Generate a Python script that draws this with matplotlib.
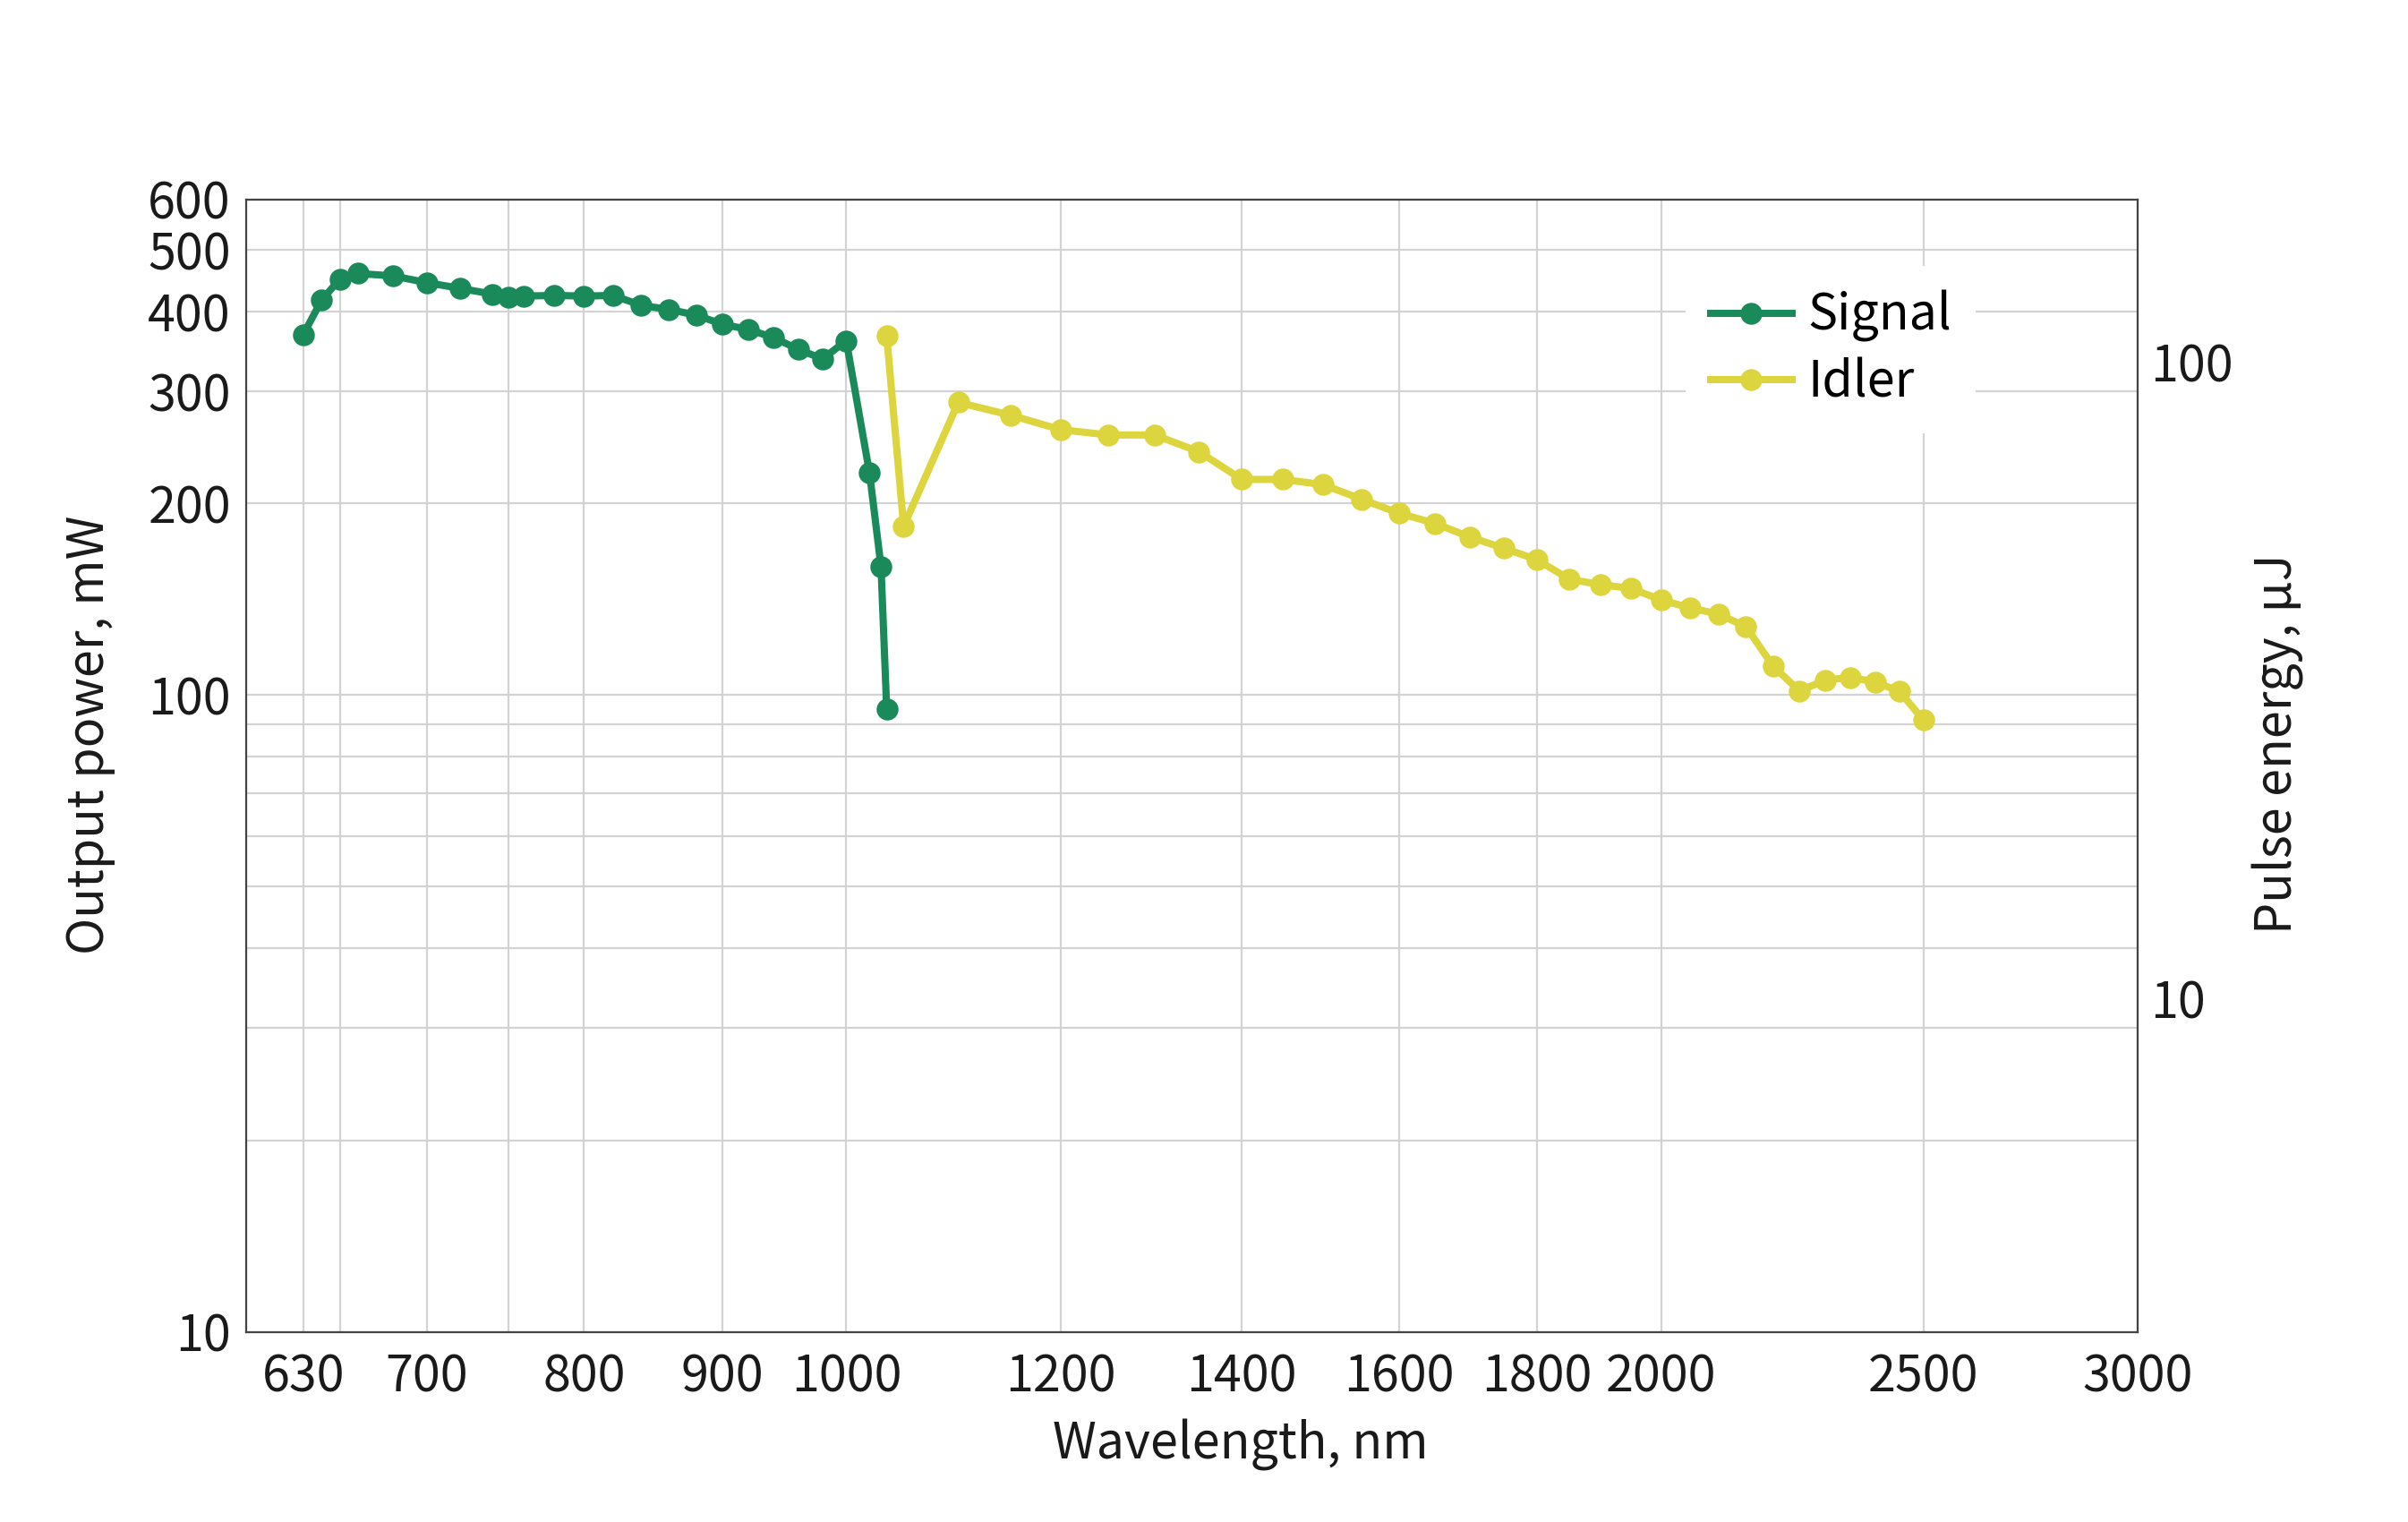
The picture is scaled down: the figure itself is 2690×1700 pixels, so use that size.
import matplotlib
matplotlib.use("Agg")
import matplotlib.pyplot as plt
from matplotlib.ticker import FixedLocator, FixedFormatter, NullFormatter, NullLocator

plt.rcParams['font.family'] = ['Noto Sans CJK SC', 'DejaVu Sans']

# ---- data ----
signal_wl = [630, 640, 650, 660, 680, 700, 720, 740, 750, 760, 780, 800, 820,
             840, 860, 880, 900, 920, 940, 960, 980, 1000, 1020, 1030, 1035]
signal_mw = [368, 417, 450, 459, 455, 444, 435, 426, 421, 423, 424, 423, 424,
             409, 403, 395, 382, 375, 364, 349, 337, 360, 223, 159, 95]

idler_wl = [1035, 1050, 1100, 1150, 1200, 1250, 1300, 1350, 1400, 1450, 1500,
            1550, 1600, 1650, 1700, 1750, 1800, 1850, 1900, 1950, 2000, 2050,
            2100, 2150, 2200, 2250, 2300, 2350, 2400, 2450, 2500]
idler_mw = [366, 184, 288, 275, 261, 256, 256, 241, 218, 218, 214,
            203, 193, 186, 177, 170, 163, 152, 149, 147, 141, 137,
            134, 128, 111, 101.5, 105.5, 106.6, 104.8, 101.3, 91.4]

rep_rate_khz = 10 / 3  # power (mW) / rep rate (kHz) = pulse energy (uJ)

x_ticks = [630, 700, 800, 900, 1000, 1200, 1400, 1600, 1800, 2000, 2500, 3000]
x_minor_grid = [650, 750]
y_ticks = [10, 100, 200, 300, 400, 500, 600]
y_minor_grid = [20, 30, 40, 50, 60, 70, 80, 90]
y2_ticks = [10, 100]

green = '#1b8a5a'
yellow = '#ddd53e'
grid_c = '#d3d3d3'
text_c = '#1a1a1a'

fig = plt.figure(figsize=(13.45, 8.5), dpi=200)
ax = fig.add_axes([0.1021, 0.1249, 0.7856, 0.7441])

ax.set_xscale('log')
ax.set_yscale('log')
xlim = (600, 3000)
ylim = (10, 600)
ax.set_xlim(*xlim)
ax.set_ylim(*ylim)

ax.xaxis.set_major_locator(FixedLocator(x_ticks))
ax.xaxis.set_major_formatter(FixedFormatter([str(t) for t in x_ticks]))
ax.xaxis.set_minor_locator(FixedLocator(x_minor_grid))
ax.xaxis.set_minor_formatter(NullFormatter())
ax.yaxis.set_major_locator(FixedLocator(y_ticks))
ax.yaxis.set_major_formatter(FixedFormatter([str(t) for t in y_ticks]))
ax.yaxis.set_minor_locator(FixedLocator(y_minor_grid))
ax.yaxis.set_minor_formatter(NullFormatter())

ax.grid(True, which='both', color=grid_c, linewidth=0.8)
ax.set_axisbelow(True)
ax.tick_params(which='both', length=0, labelsize=20, colors=text_c)
ax.tick_params(axis='x', pad=8)
ax.tick_params(axis='y', pad=6)

for s in ax.spines.values():
    s.set_color('#444444')
    s.set_linewidth(0.8)

ax.plot(signal_wl, signal_mw, color=green, lw=2.9, marker='o', ms=7.8,
        label='Signal', zorder=3)
ax.plot(idler_wl, idler_mw, color=yellow, lw=2.9, marker='o', ms=7.8,
        label='Idler', zorder=3)

ax.set_xlabel('Wavelength, nm', fontsize=20, color=text_c)
ax.xaxis.set_label_coords(0.526, -0.077)
ax.set_ylabel('Output power, mW', fontsize=20, color=text_c)
ax.yaxis.set_label_coords(-0.069, 0.527)

ax2 = ax.twinx()
ax2.set_yscale('log')
ax2.set_ylim(ylim[0] / rep_rate_khz, ylim[1] / rep_rate_khz)
ax2.yaxis.set_major_locator(FixedLocator(y2_ticks))
ax2.yaxis.set_major_formatter(FixedFormatter([str(t) for t in y2_ticks]))
ax2.yaxis.set_minor_locator(NullLocator())
ax2.tick_params(which='both', length=0, labelsize=20, colors=text_c, pad=5)
ax2.set_ylabel('Pulse energy, µJ', fontsize=20, color=text_c)
ax2.yaxis.set_label_coords(1.0606, 0.519)
for s in ax2.spines.values():
    s.set_visible(False)

leg = ax.legend(loc='upper left', bbox_to_anchor=(0.761, 0.9415), fontsize=20,
                frameon=True, facecolor='white', edgecolor='none', framealpha=1,
                fancybox=False, handlelength=1.65, handletextpad=0.3,
                borderpad=0.5, labelspacing=0.3, borderaxespad=0)
leg.set_zorder(5)

fig.savefig('out.png', dpi=200)
